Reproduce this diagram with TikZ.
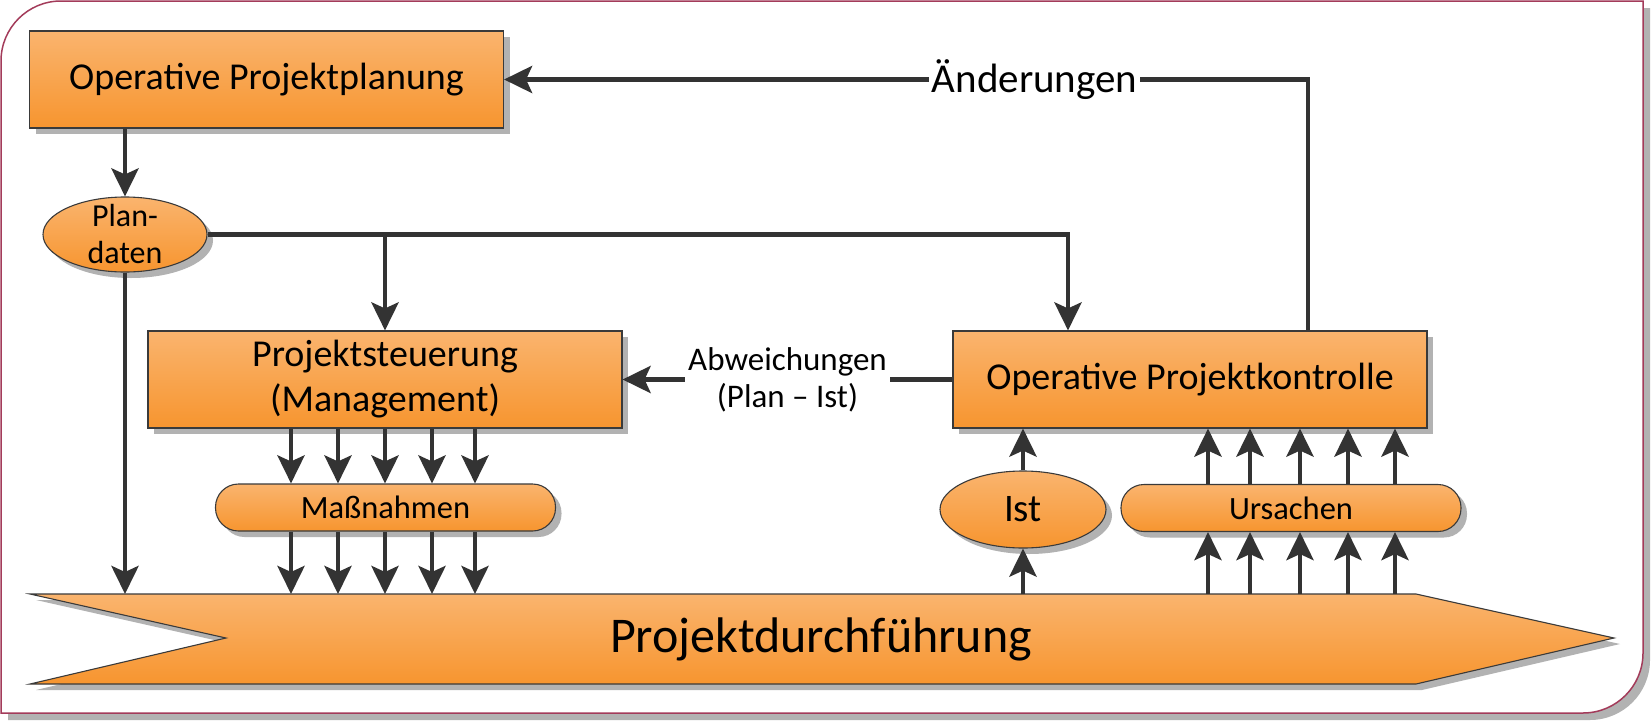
\documentclass[tikz,border=0pt]{standalone}
\usepackage{fontspec}
\setmainfont{Carlito}
\usepackage{xcolor}
\usetikzlibrary{arrows.meta, positioning, shapes.geometric, shadows, calc}

\definecolor{orangetop}{HTML}{FAB46E}
\definecolor{orangebot}{HTML}{F7952F}
\definecolor{boxline}{HTML}{3A3A3A}
\definecolor{arrowgray}{HTML}{333333}
\definecolor{framered}{HTML}{A33B5A}
\definecolor{shadowgray}{HTML}{B2B2B2}

\begin{document}
\begin{tikzpicture}[
        x=1pt, y=-1pt,
        >={Stealth[length=28pt, width=27pt, inset=6pt]},
        shadowed/.style={drop shadow={shadow xshift=6pt, shadow yshift=-6pt, fill=shadowgray, opacity=1}},
        orangefill/.style={draw=boxline, line width=1.1pt, top color=orangetop, bottom color=orangebot, shadowed},
        bigbox/.style={orangefill, minimum width=474pt, minimum height=97pt, inner sep=0pt, align=center, font=\fontsize{38}{45}\selectfont},
        pill/.style={orangefill, rounded corners=23pt, minimum width=340pt, minimum height=47pt, inner sep=0pt, font=\fontsize{32.5}{38}\selectfont},
        oval/.style={orangefill, ellipse, inner sep=0pt},
        flow/.style={->, draw=arrowgray, line width=4.8pt},
        flowlabel/.style={fill=white, inner xsep=3pt, inner ysep=1pt, align=center},
    ]
    \useasboundingbox (0,0) rectangle (1651,720);

    % ── Frame ──
    \draw[draw=framered, line width=1.5pt, fill=white,
          drop shadow={shadow xshift=7pt, shadow yshift=-7pt, fill=shadowgray, opacity=1}]
        (1,713) -- (1,300) [rounded corners=60pt] -- (1,1) -- (800,1) [sharp corners] -- (1643,1)
        -- (1643,400) [rounded corners=60pt] -- (1643,713) -- (800,713) [sharp corners] -- cycle;

    % ── Planning ──
    \node[bigbox] (planung) at (266.5,79.5) {Operative Projektplanung};
    \node[oval, minimum width=164pt, minimum height=75pt,
          label={[font=\fontsize{32}{37}\selectfont, align=center]center:Plan-\\daten}] (plandaten) at (125,234.5) {};

    % ── Control loop ──
    \node[bigbox] (steuerung) at (385,379.5) {Projektsteuerung\\(Management)};
    \node[bigbox] (kontrolle) at (1190,379.5) {Operative Projektkontrolle};
    \node[pill] (massnahmen) at (385.5,507.5) {Maßnahmen};
    \node[oval, minimum width=166pt, minimum height=77pt, font=\fontsize{39}{45}\selectfont] (ist) at (1023,509.5) {Ist};
    \node[pill] (ursachen) at (1291,508) {Ursachen};

    % ── Execution ──
    \draw[orangefill] (30,594) -- (1416,594) -- (1614,638) -- (1416,684) -- (30,684) -- (226,638) -- cycle;
    \node[font=\fontsize{50}{58}\selectfont] (durch) at (821,639) {Projektdurchführung};
    \coordinate (durchtop) at (0,594);

    % ── Arrows: plan data ──
    \draw[flow] (plandaten.north |- planung.south) -- (plandaten.north);
    \draw[flow] (plandaten.east) -| ([xshift=-122pt]kontrolle.north);
    \draw[flow] (plandaten.east -| steuerung.north) -- (steuerung.north);
    \draw[flow] (plandaten.south) -- (plandaten.south |- durchtop);

    % ── Arrows: feedback ──
    \draw[flow] (kontrolle.west) -- (steuerung.east)
        node[midway, flowlabel, font=\fontsize{33}{37}\selectfont] {Abweichungen\\(Plan – Ist)};
    \draw[flow] ([xshift=118pt]kontrolle.north) |- (planung.east)
        node[pos=0.67, flowlabel, font=\fontsize{41}{48}\selectfont] {Änderungen};

    % ── Arrows: measures and causes ──
    \foreach \x in {291,338,385,432,475} {
        \draw[flow] (\x,0 |- steuerung.south) -- (\x,0 |- massnahmen.north);
        \draw[flow] (\x,0 |- massnahmen.south) -- (\x,0 |- durchtop);
    }
    \foreach \x in {1208,1250,1300,1348,1395} {
        \draw[flow] (\x,0 |- durchtop) -- (\x,0 |- ursachen.south);
        \draw[flow] (\x,0 |- ursachen.north) -- (\x,0 |- kontrolle.south);
    }
    \draw[flow] (ist.south |- durchtop) -- (ist.south);
    \draw[flow] (ist.north) -- (ist.north |- kontrolle.south);

\end{tikzpicture}
\end{document}
